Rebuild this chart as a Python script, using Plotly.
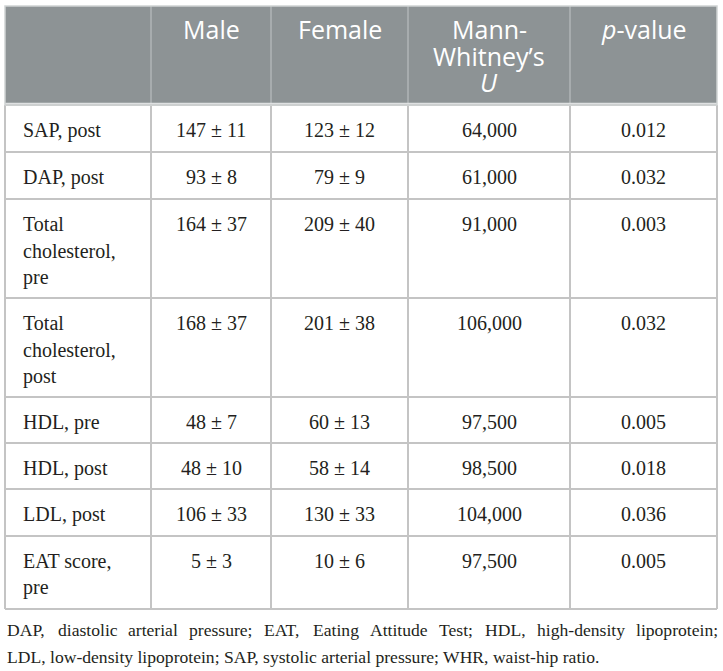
import plotly.graph_objects as go

# ---- data ----
headers = ["", "Male", "Female", "Mann-<br>Whitney’s<br><i>U</i>", "<i>p</i>-value"]
row_labels = ["SAP, post", "DAP, post", "Total<br>cholesterol,<br>pre",
              "Total<br>cholesterol,<br>post", "HDL, pre", "HDL, post",
              "LDL, post", "EAT score,<br>pre"]
male = ["147 ± 11", "93 ± 8", "164 ± 37", "168 ± 37", "48 ± 7", "48 ± 10", "106 ± 33", "5 ± 3"]
female = ["123 ± 12", "79 ± 9", "209 ± 40", "201 ± 38", "60 ± 13", "58 ± 14", "130 ± 33", "10 ± 6"]
mann_u = ["64,000", "61,000", "91,000", "106,000", "97,500", "98,500", "104,000", "97,500"]
p_values = ["0.012", "0.032", "0.003", "0.032", "0.005", "0.018", "0.036", "0.005"]
footnote_line1 = "DAP, diastolic arterial pressure; EAT, Eating Attitude Test; HDL, high-density lipoprotein;"
footnote_line2 = "LDL, low-density lipoprotein; SAP, systolic arterial pressure; WHR, waist-hip ratio."

# ---- layout constants (page pixels) ----
W, H = 723, 671
col_edges = [5, 151, 271, 408, 570, 717]
row_edges = [6, 105, 152, 199, 298, 397, 443, 489, 536, 609]
HEADER_BG = "#8d9395"
HEADER_SEP = "#a7acae"
GRID = "#c4c4c4"
TEXT = "#231f20"
SERIF = "Liberation Serif, Times New Roman, serif"
SANS = "Open Sans, Noto Sans, sans-serif"
BODY_SIZE = 20
HEAD_SIZE = 25
FOOT_SIZE = 17.6
BASE_OFF = 32
BODY_LS = 26.5
HEAD_LS = 26.5
FOOT_BASE = [636, 663]
FOOT_LEFT, FOOT_RIGHT = 5, 716

# Times/Liberation Serif advance widths (1/1000 em) used to justify the first footnote line
TIMES_W = {' ': 250, ',': 250, ';': 278, '-': 333, '.': 250,
           'A': 722, 'D': 722, 'E': 611, 'H': 722, 'L': 611, 'P': 556, 'S': 556, 'T': 611,
           'W': 944, 'R': 667,
           'a': 444, 'b': 500, 'c': 444, 'd': 500, 'e': 444, 'f': 333, 'g': 500, 'h': 500,
           'i': 278, 'j': 278, 'k': 500, 'l': 278, 'm': 778, 'n': 500, 'o': 500, 'p': 500,
           'q': 500, 'r': 333, 's': 389, 't': 278, 'u': 500, 'v': 500, 'w': 722, 'x': 500,
           'y': 500, 'z': 444}


def text_width(s, size):
    return sum(TIMES_W.get(c, 500) for c in s) / 1000.0 * size


fig = go.Figure()
shapes = []
annotations = []

# header background
shapes.append(dict(type="rect", x0=col_edges[0], x1=col_edges[-1], y0=row_edges[0], y1=row_edges[1],
                   fillcolor=HEADER_BG, line=dict(width=0), layer="below"))
# header separators
for x in col_edges[1:-1]:
    shapes.append(dict(type="line", x0=x, x1=x, y0=row_edges[0], y1=row_edges[1],
                       line=dict(color=HEADER_SEP, width=2)))
# light line under header
shapes.append(dict(type="line", x0=col_edges[0], x1=col_edges[-1], y0=row_edges[1] - 1.5, y1=row_edges[1] - 1.5,
                   line=dict(color="#dfe1e2", width=1.5)))
# body horizontal lines
for y in row_edges[1:]:
    shapes.append(dict(type="line", x0=col_edges[0], x1=col_edges[-1], y0=y, y1=y,
                       line=dict(color=GRID, width=2)))
# body vertical lines
for x in col_edges:
    shapes.append(dict(type="line", x0=x, x1=x, y0=row_edges[1], y1=row_edges[-1],
                       line=dict(color=GRID, width=2)))
# outer border of header
shapes.append(dict(type="rect", x0=col_edges[0], x1=col_edges[-1], y0=row_edges[0], y1=row_edges[1],
                   line=dict(color="#d0d3d4", width=1.5)))


def add_text(text, x, baseline, size, family, color, align, line_sp, asc=0.34):
    lines = text.split("<br>")
    for i, ln in enumerate(lines):
        if ln == "":
            continue
        yb = baseline + i * line_sp
        annotations.append(dict(
            x=x, y=yb - asc * size, xref="x", yref="y", text=ln, showarrow=False,
            xanchor=align, yanchor="middle", align=align,
            font=dict(size=size, family=family, color=color)))


# header texts
for j, h in enumerate(headers):
    cx = (col_edges[j] + col_edges[j + 1]) / 2
    add_text(h, cx, row_edges[0] + BASE_OFF, HEAD_SIZE, SANS, "white", "center", HEAD_LS, asc=0.36)

# body texts
cols = [row_labels, male, female, mann_u, p_values]
for i in range(len(row_labels)):
    top = row_edges[i + 1]
    for j, col in enumerate(cols):
        if j == 0:
            add_text(col[i], col_edges[0] + 16, top + BASE_OFF, BODY_SIZE, SERIF, TEXT, "left", BODY_LS)
        else:
            cx = (col_edges[j] + col_edges[j + 1]) / 2
            add_text(col[i], cx, top + BASE_OFF, BODY_SIZE, SERIF, TEXT, "center", BODY_LS)

# footnote line 1: justified across the table width, word by word
words = footnote_line1.split(" ")
widths = [text_width(w, FOOT_SIZE) for w in words]
gap = (FOOT_RIGHT - FOOT_LEFT - sum(widths)) / (len(words) - 1)
x = FOOT_LEFT
for w, wd in zip(words, widths):
    add_text(w, x, FOOT_BASE[0], FOOT_SIZE, SERIF, TEXT, "left", BODY_LS)
    x += wd + gap
# footnote line 2: ragged, left aligned
add_text(footnote_line2, FOOT_LEFT, FOOT_BASE[1], FOOT_SIZE, SERIF, TEXT, "left", BODY_LS)

fig.update_layout(
    width=W, height=H, margin=dict(l=0, r=0, t=0, b=0),
    paper_bgcolor="white", plot_bgcolor="white",
    xaxis=dict(range=[0, W], visible=False, fixedrange=True),
    yaxis=dict(range=[H, 0], visible=False, fixedrange=True),
    shapes=shapes, annotations=annotations, showlegend=False,
)
# remove the browser's default body margin so the figure fills the window exactly
fig.write_html("out.html", post_script="document.body.style.margin='0px';",
               config={"displayModeBar": False})
